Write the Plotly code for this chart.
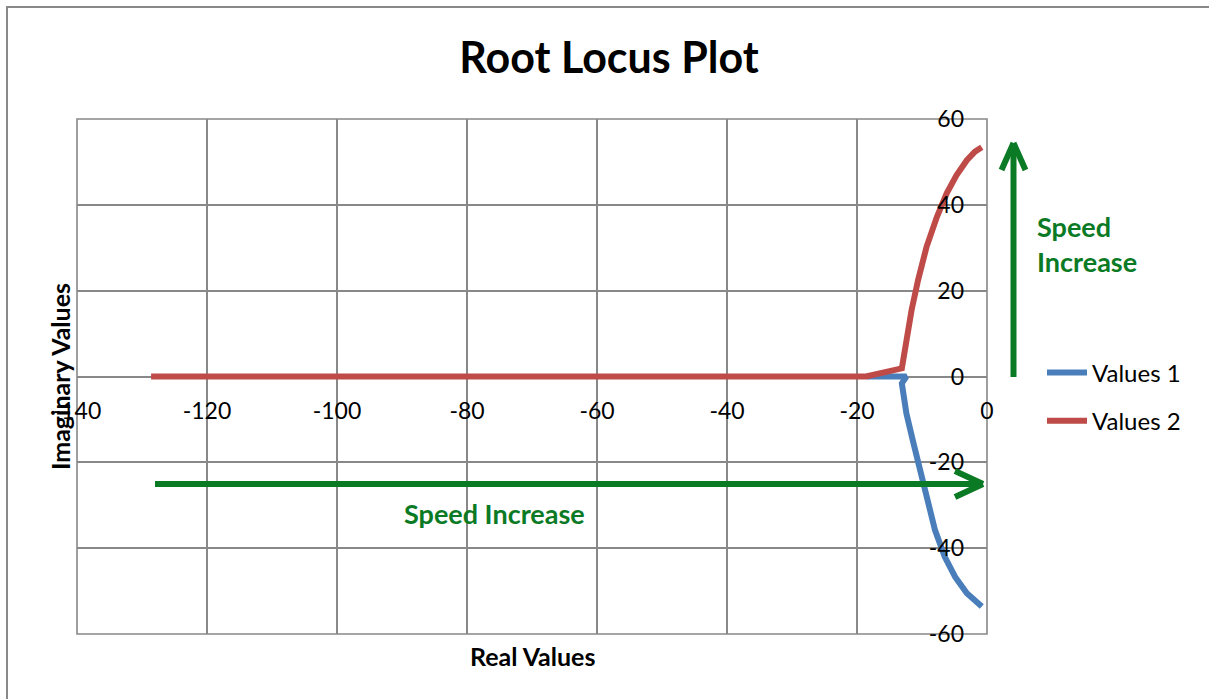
import plotly.graph_objects as go

# ---- data ----
values1_x = [-18.5, -12.4, -13.1, -12.4, -11.3, -10.3, -9.3, -8.0, -6.5, -4.9, -3.1, -0.8]
values1_y = [0.0, 0.0, -1.6, -8.6, -15.6, -21.8, -28.8, -35.8, -42.0, -46.7, -50.5, -53.6]

values2_x = [-128.6, -18.6, -13.1, -12.4, -11.6, -10.6, -9.3, -7.7, -6.2, -4.7, -3.1, -1.85, -0.8]
values2_y = [0.0, 0.0, 1.9, 9.3, 15.5, 22.5, 30.2, 37.2, 42.7, 46.9, 50.4, 52.4, 53.4]

series_names = ["Values 1", "Values 2"]
x_ticks = [-140, -120, -100, -80, -60, -40, -20, 0]
y_ticks = [-60, -40, -20, 0, 20, 40, 60]

# ---- layout constants ----
W, H = 1209, 699
L, R, T, B = 77, 987, 119, 634  # plot-area pixel box
FONT = "Lato, 'Open Sans', sans-serif"
GRID = "#888888"
GREEN = "#0B7A25"
BLUE = "#4A7EBB"
RED = "#BE4B48"


def px(x):
    return (x - L) / (R - L)


def py(y):
    return (B - y) / (B - T)


fig = go.Figure()
fig.add_trace(go.Scatter(x=values1_x, y=values1_y, mode="lines", name=series_names[0],
                         legendgroup="a",
                         line=dict(color=BLUE, width=6)))
fig.add_trace(go.Scatter(x=values2_x, y=values2_y, mode="lines", name=series_names[1],
                         legendgroup="b",
                         line=dict(color=RED, width=6)))

shapes = []
# outer chart frame
shapes.append(dict(type="rect", xref="paper", yref="paper",
                   x0=px(7), x1=px(1230), y0=py(720), y1=py(7),
                   line=dict(color="#898989", width=2), layer="below"))
# plot-area border
shapes.append(dict(type="rect", xref="paper", yref="paper", x0=0, x1=1, y0=0, y1=1,
                   line=dict(color=GRID, width=1.6), layer="below"))


def seg(x0, y0, x1, y1, w=6):
    shapes.append(dict(type="line", xref="paper", yref="paper",
                       x0=px(x0), y0=py(y0), x1=px(x1), y1=py(y1),
                       line=dict(color=GREEN, width=w)))


# horizontal arrow
seg(155, 484, 981, 484)
seg(955, 471, 983, 484)
seg(955, 497, 983, 484)
# vertical arrow
seg(1013.5, 377, 1013.5, 146)
seg(1001.5, 170, 1013.5, 143)
seg(1025.5, 170, 1013.5, 143)

annotations = [
    dict(text="<b>Speed Increase</b>", xref="paper", yref="paper",
         x=px(494), y=py(513), showarrow=False,
         font=dict(family=FONT, size=27, color=GREEN), xanchor="center", yanchor="middle"),
    dict(text="<b>Speed<br>Increase</b>", xref="paper", yref="paper",
         x=px(1035), y=py(244), showarrow=False, align="left",
         font=dict(family=FONT, size=27, color=GREEN), xanchor="left", yanchor="middle"),
    dict(text="<b>Real Values</b>", xref="paper", yref="paper",
         x=px(532), y=py(656), showarrow=False,
         font=dict(family=FONT, size=25, color="black"), xanchor="center", yanchor="middle"),
    dict(text="<b>Imaginary Values</b>", xref="paper", yref="paper",
         x=px(60), y=py(377), showarrow=False, textangle=-90,
         font=dict(family=FONT, size=25, color="black"), xanchor="center", yanchor="middle"),
]

fig.update_layout(
    width=W, height=H,
    margin=dict(l=L, r=W - R, t=T, b=H - B, pad=0),
    paper_bgcolor="white", plot_bgcolor="white",
    font=dict(family=FONT, size=23, color="black"),
    title=dict(text="<b>Root Locus Plot</b>", x=609 / W, xref="container", xanchor="center",
               y=1 - 58 / H, yref="container", yanchor="middle",
               font=dict(family=FONT, size=43, color="black")),
    xaxis=dict(range=[-140, 0], tickvals=x_ticks, ticktext=[str(v) for v in x_ticks],
               showgrid=True, gridcolor=GRID, gridwidth=1.6, zeroline=False,
               showline=False, ticks="", anchor="free", position=0.5,
               ticklabelstandoff=18, fixedrange=True),
    yaxis=dict(range=[-60, 60], tickvals=y_ticks, ticktext=[str(v) for v in y_ticks],
               showgrid=True, gridcolor=GRID, gridwidth=1.6, zeroline=False,
               showline=False, ticks="", anchor="free", position=1.0, side="left",
               ticklabelstandoff=23, fixedrange=True),
    legend=dict(x=px(1042), y=py(397), xanchor="left", yanchor="middle",
                font=dict(family=FONT, size=24), tracegroupgap=14,
                bgcolor="rgba(0,0,0,0)", itemwidth=40),
    shapes=shapes,
    annotations=annotations,
)

fig.write_html("out.html", config={"displayModeBar": False},
               post_script="document.body.style.margin='0';document.body.style.overflow='hidden';")
